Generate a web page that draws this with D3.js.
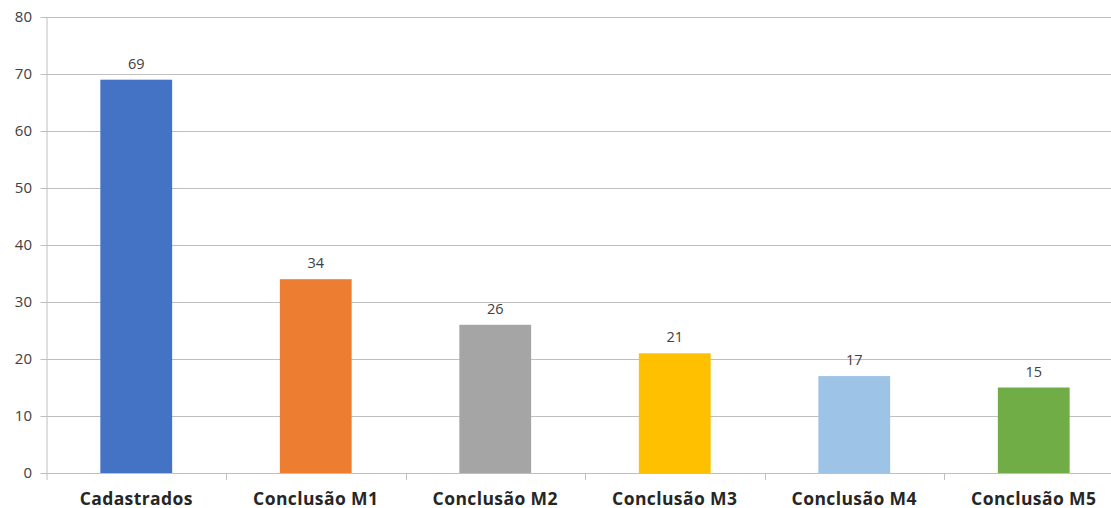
<!DOCTYPE html>
<html>
<head>
<meta charset="utf-8">
<script src="https://cdn.jsdelivr.net/npm/d3@7"></script>
<style>
  body { margin: 0; background: #fff; }
  text { font-family: "Open Sans", Lato, sans-serif; fill: #404040; }
</style>
</head>
<body>
<svg id="chart" width="1111" height="508"></svg>
<script>
const categories = ['Cadastrados', 'Conclusão M1', 'Conclusão M2', 'Conclusão M3', 'Conclusão M4', 'Conclusão M5']
const values = [69, 34, 26, 21, 17, 15]
const colors = ['#4472C4', '#ED7D31', '#A5A5A5', '#FFC000', '#9DC3E6', '#70AD47']
const yTicks = [0, 10, 20, 30, 40, 50, 60, 70, 80]

const svg = d3.select('#chart')
const padLeft = 46.5
const bandW = 179.5
const padTop = 17
const padBottom = 473

const xScale = d3.scaleBand()
  .domain(categories)
  .range([padLeft, padLeft + bandW * categories.length])

const yScale = d3.scaleLinear()
  .domain([0, 80])
  .range([padBottom, padTop])

// gridlines
svg.append('g')
  .selectAll('line')
  .data(yTicks)
  .enter()
  .append('line')
    .attr('x1', padLeft - 6)
    .attr('x2', 1111)
    .attr('y1', d => Math.round(yScale(d)) + 0.5)
    .attr('y2', d => Math.round(yScale(d)) + 0.5)
    .attr('stroke', '#bfbfbf')

// y labels
svg.append('g')
  .selectAll('text')
  .data(yTicks)
  .enter()
  .append('text')
    .attr('x', 32)
    .attr('y', d => yScale(d) + 5)
    .attr('text-anchor', 'end')
    .attr('font-size', '15px')
    .text(d => d)

// y axis line
svg.append('line')
  .attr('x1', padLeft + 0.5).attr('x2', padLeft + 0.5)
  .attr('y1', padTop).attr('y2', padBottom)
  .attr('stroke', '#bfbfbf')

// category ticks
svg.append('g')
  .selectAll('line')
  .data(categories)
  .enter()
  .append('line')
    .attr('x1', d => Math.round(xScale(d) + bandW) + 0.5)
    .attr('x2', d => Math.round(xScale(d) + bandW) + 0.5)
    .attr('y1', padBottom)
    .attr('y2', padBottom + 7)
    .attr('stroke', '#bfbfbf')

svg.append('line')
  .attr('x1', padLeft + 0.5).attr('x2', padLeft + 0.5)
  .attr('y1', padBottom).attr('y2', padBottom + 7)
  .attr('stroke', '#bfbfbf')

const barW = bandW * 0.4

svg.append('g')
  .selectAll('rect')
  .data(values)
  .enter()
  .append('rect')
    .attr('x', (d, i) => xScale(categories[i]) + (bandW - barW) / 2)
    .attr('width', barW)
    .attr('y', d => yScale(d))
    .attr('height', d => padBottom - yScale(d))
    .attr('fill', (d, i) => colors[i])

svg.append('g')
  .selectAll('text')
  .data(values)
  .enter()
  .append('text')
    .attr('x', (d, i) => xScale(categories[i]) + bandW / 2)
    .attr('y', d => yScale(d) - 11)
    .attr('text-anchor', 'middle')
    .attr('font-size', '14.5px')
    .text(d => d)

svg.append('g')
  .selectAll('text')
  .data(categories)
  .enter()
  .append('text')
    .attr('x', d => xScale(d) + bandW / 2)
    .attr('y', 505)
    .attr('text-anchor', 'middle')
    .attr('font-size', '17.5px')
    .attr('font-weight', 'bold')
    .attr('letter-spacing', '0.4px')
    .style('fill', '#262626')
    .text(d => d)
</script>
</body>
</html>
